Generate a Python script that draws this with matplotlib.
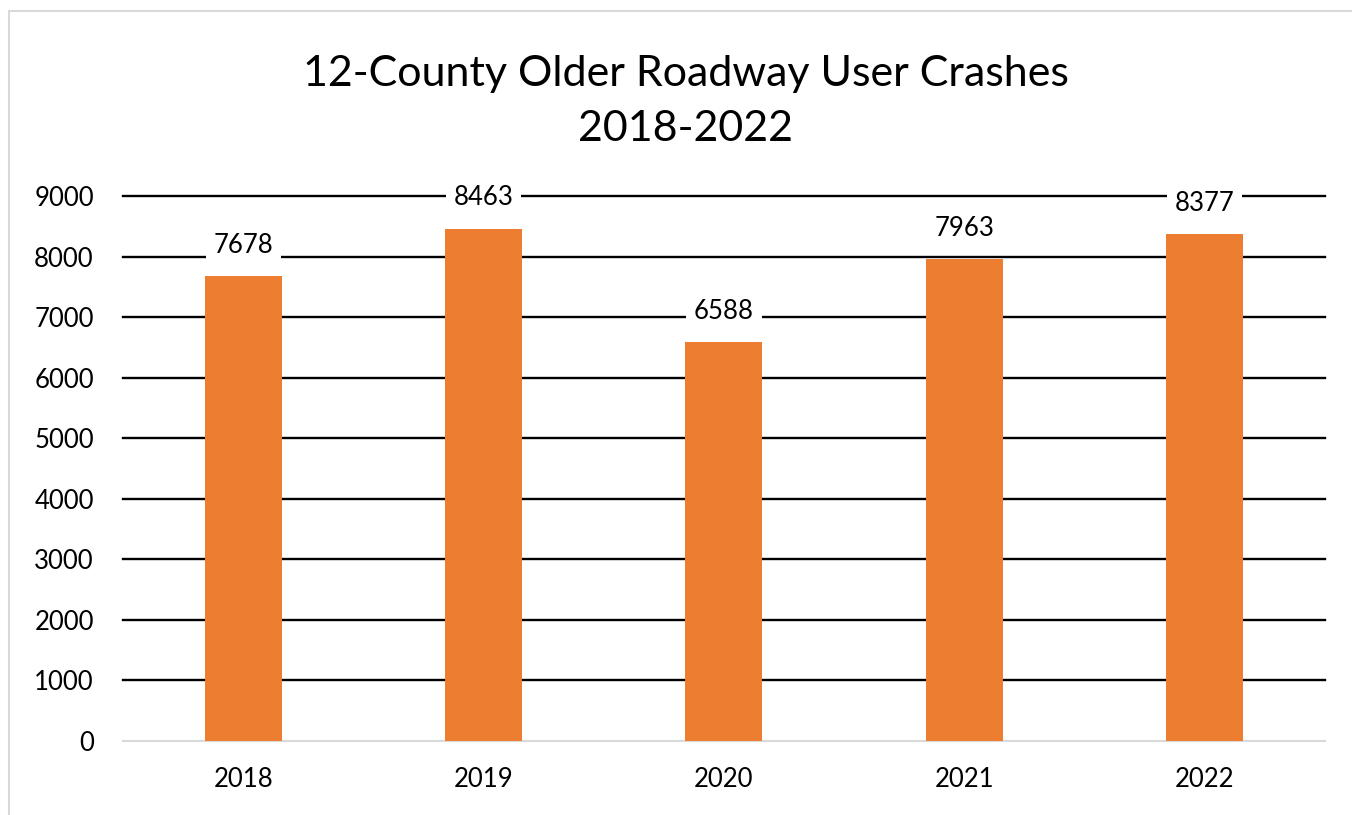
import matplotlib.pyplot as plt
from matplotlib.patches import Rectangle

years = ["2018", "2019", "2020", "2021", "2022"]
crashes = [7678, 8463, 6588, 7963, 8377]
yticks = [0, 1000, 2000, 3000, 4000, 5000, 6000, 7000, 8000, 9000]

plt.rcParams['font.family'] = ['Lato', 'DejaVu Sans']

fig = plt.figure(figsize=(13.52, 8.15), dpi=100)
ax = fig.add_axes([0.091, 0.0908, 0.8887, 0.6687])

x = range(len(years))
ax.bar(x, crashes, width=0.32, color='#ED7D31', zorder=3)

# data labels with white box so the gridlines stop around them
for i, v in enumerate(crashes):
    ax.annotate(str(v), (i, v), xytext=(0, 22), textcoords='offset points',
                ha='center', va='center', fontsize=18.5, color='black',
                bbox=dict(boxstyle='square,pad=0.3', fc='white', ec='none'),
                zorder=4, annotation_clip=False)

ax.set_xlim(-0.5, 4.5)
ax.set_ylim(0, 9000)
ax.set_yticks(yticks)
ax.set_xticks(list(x))
ax.set_xticklabels(years)
ax.tick_params(axis='both', length=0, labelsize=18.5, colors='black')
ax.tick_params(axis='y', pad=21)
ax.tick_params(axis='x', pad=19)

# black gridlines, light gray base line
for v in yticks[1:]:
    ax.axhline(v, color='black', linewidth=1.7, zorder=1, clip_on=False)
for side in ['top', 'right', 'left']:
    ax.spines[side].set_visible(False)
ax.spines['bottom'].set_color('#D9D9D9')
ax.spines['bottom'].set_linewidth(1.5)

fig.text(0.507, 0.875, "12-County Older Roadway User Crashes\n2018-2022",
         ha='center', va='center', fontsize=31, linespacing=1.55)

# chart area border (cropped at right/bottom in original)
fig.patches.append(Rectangle((9 / 1352, -0.1), 1.2, 0.1 + 804 / 815,
                             transform=fig.transFigure, fill=False,
                             edgecolor='#D9D9D9', linewidth=1.5))

fig.savefig("out.png", dpi=100)
